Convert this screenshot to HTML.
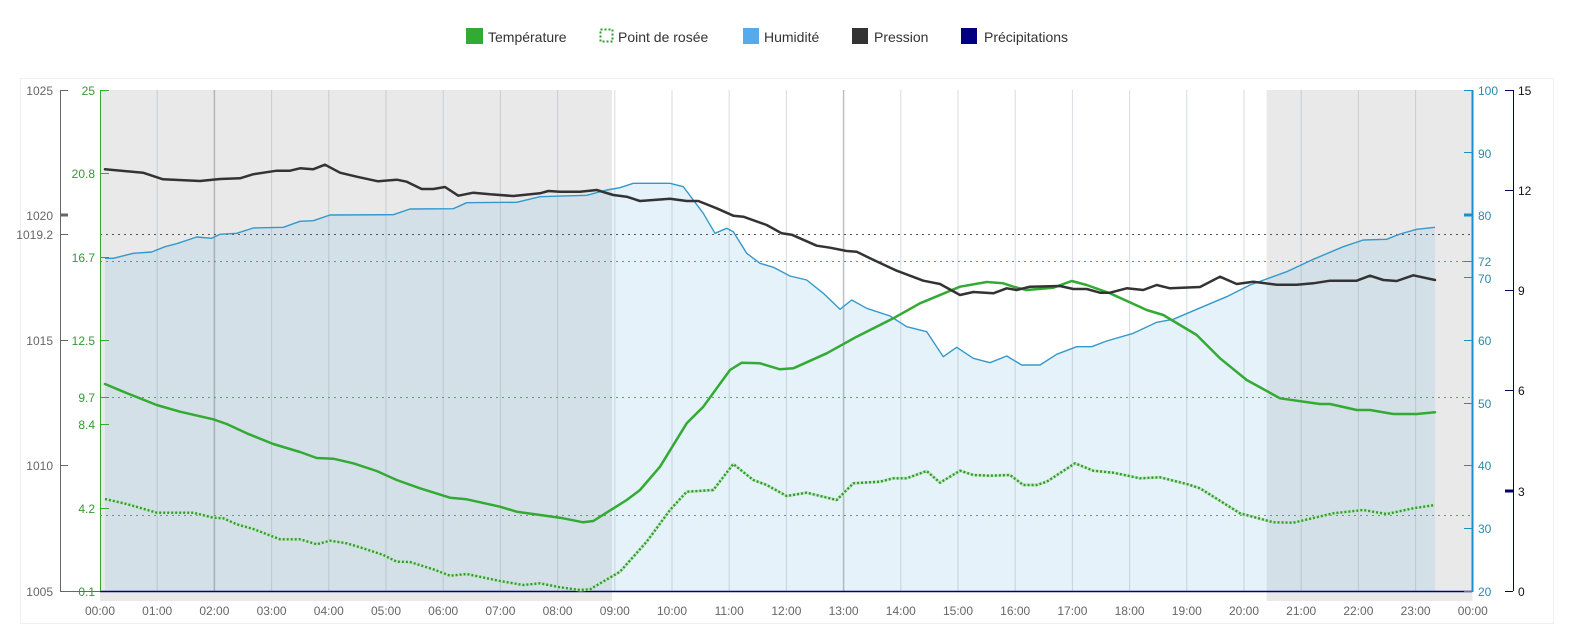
<!DOCTYPE html>
<html><head><meta charset="utf-8"><style>
html,body{margin:0;padding:0;background:#fff;}
svg{display:block;font-family:"Liberation Sans",Arial,sans-serif;}
</style></head><body>
<svg width="1569" height="625" viewBox="0 0 1569 625" xmlns="http://www.w3.org/2000/svg">
<rect x="0" y="0" width="1569" height="625" fill="#fff"/>
<!-- legend -->
<g font-size="14" fill="#333">
<rect x="466" y="28" width="17" height="16" fill="#33aa33"/>
<text x="488" y="42">Température</text>
<rect x="600.5" y="29.5" width="12" height="12" fill="none" stroke="#339933" stroke-width="2" stroke-dasharray="2,2"/>
<text x="618" y="42">Point de rosée</text>
<rect x="743" y="28" width="16" height="16" fill="#55aaee"/>
<text x="764" y="42">Humidité</text>
<rect x="852" y="28" width="16" height="16" fill="#333"/>
<text x="874" y="42">Pression</text>
<rect x="961" y="28" width="16" height="16" fill="#000080"/>
<text x="984" y="42">Précipitations</text>
</g>
<!-- panel border -->
<rect x="20.5" y="78.5" width="1533" height="545" fill="none" stroke="#f0f0f0"/>
<!-- night regions -->
<rect x="100" y="90" width="512" height="511" fill="#e9e9e9"/>
<rect x="1266.7" y="90" width="205.8" height="511" fill="#e9e9e9"/>
<!-- humidity fill -->
<polygon fill="rgba(110,183,222,0.18)" points="105,258.3 113.3,258.3 133.3,253.3 151.7,252 165,246.7 176.7,243.7 196.7,237 211.7,238.3 220,234.3 236.7,233.3 253.3,228 283.3,227.3 300,221.3 313.3,220.7 330,215 393.3,214.7 410,209 453.3,208.7 466.7,202.7 516.7,202.3 540,196.7 586.7,195.3 606.7,190 620,187.7 633.3,183.3 670,183.3 683.3,186.7 693.3,200 703.3,213.3 715,233.3 726.7,228.3 733.3,231.7 746.7,253.3 760,263.3 773.3,267.3 790,276 806.7,280 823.3,293.3 840,309.3 851.7,300 866.7,308.3 890,316 906.7,326.7 926.7,331.7 943.3,356.7 956.7,347.3 973.3,358.3 990,362.7 1006.7,356 1021.7,365 1040,365 1056.7,354.3 1076.7,346.7 1091.7,346.7 1106.7,341 1133.3,333.3 1156.7,322.3 1173.3,319.3 1196.7,309.3 1226.7,296.7 1250,285 1286.7,271.7 1313.3,259.3 1343.3,246.7 1363.3,240 1386.7,239.3 1400,234 1416.7,229.3 1435,227.3 1435,591 105,591"/>
<!-- vertical grid -->
<g stroke="rgba(140,155,170,0.35)" stroke-width="1">
<line x1="157.2" y1="90" x2="157.2" y2="591"/>
<line x1="214.4" y1="90" x2="214.4" y2="591" stroke="rgba(120,130,140,0.5)" stroke-width="1.5"/>
<line x1="271.6" y1="90" x2="271.6" y2="591"/>
<line x1="328.8" y1="90" x2="328.8" y2="591"/>
<line x1="386" y1="90" x2="386" y2="591"/>
<line x1="443.2" y1="90" x2="443.2" y2="591"/>
<line x1="500.4" y1="90" x2="500.4" y2="591"/>
<line x1="557.6" y1="90" x2="557.6" y2="591"/>
<line x1="614.8" y1="90" x2="614.8" y2="591"/>
<line x1="672" y1="90" x2="672" y2="591"/>
<line x1="729.2" y1="90" x2="729.2" y2="591"/>
<line x1="786.4" y1="90" x2="786.4" y2="591"/>
<line x1="843.6" y1="90" x2="843.6" y2="591" stroke="rgba(120,130,140,0.5)" stroke-width="1.5"/>
<line x1="900.8" y1="90" x2="900.8" y2="591"/>
<line x1="958" y1="90" x2="958" y2="591"/>
<line x1="1015.2" y1="90" x2="1015.2" y2="591"/>
<line x1="1072.4" y1="90" x2="1072.4" y2="591"/>
<line x1="1129.6" y1="90" x2="1129.6" y2="591"/>
<line x1="1186.8" y1="90" x2="1186.8" y2="591"/>
<line x1="1244" y1="90" x2="1244" y2="591"/>
<line x1="1301.2" y1="90" x2="1301.2" y2="591"/>
<line x1="1358.4" y1="90" x2="1358.4" y2="591"/>
<line x1="1415.6" y1="90" x2="1415.6" y2="591"/>
</g>
<!-- horizontal dotted lines -->
<g stroke-width="1" stroke-dasharray="2,4">
<line x1="100" y1="234.5" x2="1472" y2="234.5" stroke="#555"/>
<line x1="100" y1="261.5" x2="1472" y2="261.5" stroke="#4d9bb0"/>
<line x1="100" y1="397.5" x2="1472" y2="397.5" stroke="#6a9a6a"/>
<line x1="100" y1="515.5" x2="1472" y2="515.5" stroke="#6a9a6a"/>
</g>
<!-- precip baseline -->
<line x1="100" y1="591.5" x2="1472" y2="591.5" stroke="#000080" stroke-width="1.5"/>
<!-- humidity line -->
<polyline fill="none" stroke="#3399cc" stroke-width="1.4" stroke-linejoin="round" points="105,258.3 113.3,258.3 133.3,253.3 151.7,252 165,246.7 176.7,243.7 196.7,237 211.7,238.3 220,234.3 236.7,233.3 253.3,228 283.3,227.3 300,221.3 313.3,220.7 330,215 393.3,214.7 410,209 453.3,208.7 466.7,202.7 516.7,202.3 540,196.7 586.7,195.3 606.7,190 620,187.7 633.3,183.3 670,183.3 683.3,186.7 693.3,200 703.3,213.3 715,233.3 726.7,228.3 733.3,231.7 746.7,253.3 760,263.3 773.3,267.3 790,276 806.7,280 823.3,293.3 840,309.3 851.7,300 866.7,308.3 890,316 906.7,326.7 926.7,331.7 943.3,356.7 956.7,347.3 973.3,358.3 990,362.7 1006.7,356 1021.7,365 1040,365 1056.7,354.3 1076.7,346.7 1091.7,346.7 1106.7,341 1133.3,333.3 1156.7,322.3 1173.3,319.3 1196.7,309.3 1226.7,296.7 1250,285 1286.7,271.7 1313.3,259.3 1343.3,246.7 1363.3,240 1386.7,239.3 1400,234 1416.7,229.3 1435,227.3"/>
<!-- dew point -->
<polyline fill="none" stroke="#bfe8bf" stroke-width="3" stroke-linejoin="round" points="105,499 126.7,504 156.7,512.7 193.3,512.7 213.3,517.7 223.3,518.3 236.7,524.3 253.3,529 280,539.3 300,539.3 316.7,544.3 330,540.7 346.7,543.3 363.3,548.3 383.3,555 396.7,561.7 410,562 433.3,569.3 450,575.7 466.7,574 500,581 523.3,585 540,583.3 560,587.3 580,590 590,589.3 620,571.7 646.7,541.7 670,510 686.7,491.7 713.3,490 733.3,464 753.3,480 766.7,485 786.7,496 806.7,492.7 836.7,500 853.3,483.3 880,481.7 893.3,478.3 906.7,478.3 926.7,471 940,482.7 960,470.7 973.3,475 990,475.7 1010,475 1023.3,485 1036.7,485 1046.7,481.7 1075,463.3 1093.3,470.7 1113.3,472.7 1140,478.3 1160,477.3 1186.7,484 1200,488.3 1240,513.3 1273.3,522.3 1293.3,522.7 1333.3,513.3 1363.3,510 1386.7,514 1413.3,508.3 1435,505"/>
<polyline fill="none" stroke="#339933" stroke-width="2.4" stroke-dasharray="2,2" stroke-linejoin="round" points="105,499 126.7,504 156.7,512.7 193.3,512.7 213.3,517.7 223.3,518.3 236.7,524.3 253.3,529 280,539.3 300,539.3 316.7,544.3 330,540.7 346.7,543.3 363.3,548.3 383.3,555 396.7,561.7 410,562 433.3,569.3 450,575.7 466.7,574 500,581 523.3,585 540,583.3 560,587.3 580,590 590,589.3 620,571.7 646.7,541.7 670,510 686.7,491.7 713.3,490 733.3,464 753.3,480 766.7,485 786.7,496 806.7,492.7 836.7,500 853.3,483.3 880,481.7 893.3,478.3 906.7,478.3 926.7,471 940,482.7 960,470.7 973.3,475 990,475.7 1010,475 1023.3,485 1036.7,485 1046.7,481.7 1075,463.3 1093.3,470.7 1113.3,472.7 1140,478.3 1160,477.3 1186.7,484 1200,488.3 1240,513.3 1273.3,522.3 1293.3,522.7 1333.3,513.3 1363.3,510 1386.7,514 1413.3,508.3 1435,505"/>
<!-- temperature -->
<polyline fill="none" stroke="#33aa33" stroke-width="2.5" stroke-linejoin="round" stroke-linecap="round" points="105,384 123.3,391.7 156.7,405 180,411.7 213.3,419.3 226.7,424 246.7,433.3 273.3,444 300,452 316.7,458 333.3,458.7 353.3,463.3 376.7,471 396.7,480 420,488.3 450,497.7 466.7,499.3 500,506.7 516.7,511.7 560,517.7 583.3,522.3 593.3,521 626.7,500 640,490 660,466.7 686.7,423.3 703.3,406.7 730,370 741.7,362.7 760,363.3 780,369.3 793.3,368.3 826.7,353.3 856.7,336.7 893.3,318.3 920,303.3 960,286.7 986.7,282 1003.3,283.3 1013.3,286.7 1026.7,290 1053.3,287.7 1071.7,281 1086.7,285 1110,293.3 1146.7,310 1163.3,315 1196.7,335 1220,358.3 1246.7,380 1280,398.3 1320,404 1330,404 1356.7,410 1370,410 1393.3,414 1416.7,414 1435,412.3"/>
<!-- pressure -->
<polyline fill="none" stroke="#333" stroke-width="2.5" stroke-linejoin="round" stroke-linecap="round" points="105,169.3 143,172.7 163,179.3 200,181 220,179 240,178.3 253,174.3 276.7,170.7 290,170.7 300,168.3 313,169.3 325,164.7 340,172.7 356.7,176.7 378,181.3 396.7,179.7 406.7,181.7 421.7,189 433.3,189 445,187 458.3,195.7 473.3,192.7 490,194.3 513.3,196 540,193.3 548.3,191 560,191.7 580,191.7 596.7,190 613.3,195 626.7,196.7 640,201 670,198.7 686.7,201 698.3,201 716.7,208.3 733.3,215.7 743.3,216.7 766.7,225 781.7,233.3 791.7,234.7 816.7,245.7 830,247.7 846.7,251 856.7,251.7 870,258.3 896.7,270.7 923.3,280.7 940,284 960,295 973.3,292 993.3,293.3 1006.7,288.3 1016.7,290 1030,286.7 1060,286 1073.3,289 1086.7,289 1100,292.7 1110,292.7 1126.7,288.3 1143.3,290 1156.7,285 1170,288.3 1200,287 1220,276.7 1236.7,284 1253.3,281.7 1276.7,284.7 1296.7,284.7 1313.3,283.3 1330,280.7 1356.7,280.7 1370,275.7 1383.3,280 1396.7,281 1413.3,275.3 1435,280"/>
<!-- pressure axis -->
<g stroke="#666" stroke-width="1">
<line x1="60.5" y1="90" x2="60.5" y2="591"/>
<line x1="60" y1="90.5" x2="68" y2="90.5"/>
<line x1="60" y1="215" x2="68" y2="215" stroke-width="3"/>
<line x1="60" y1="234.5" x2="68" y2="234.5"/>
<line x1="60" y1="340.5" x2="68" y2="340.5"/>
<line x1="60" y1="465.5" x2="68" y2="465.5"/>
<line x1="60" y1="591.5" x2="100" y2="591.5"/>
</g>
<g font-size="12" fill="#666" text-anchor="end">
<text x="53" y="95">1025</text>
<text x="53" y="220">1020</text>
<text x="53" y="239">1019.2</text>
<text x="53" y="345">1015</text>
<text x="53" y="470">1010</text>
<text x="53" y="596">1005</text>
</g>
<!-- temperature axis -->
<g stroke="#33aa33" stroke-width="1">
<line x1="100.5" y1="90" x2="100.5" y2="591"/>
<line x1="100" y1="90.5" x2="109" y2="90.5"/>
<line x1="100" y1="173.5" x2="109" y2="173.5"/>
<line x1="100" y1="257.5" x2="109" y2="257.5"/>
<line x1="100" y1="340.5" x2="109" y2="340.5"/>
<line x1="100" y1="397.5" x2="109" y2="397.5"/>
<line x1="100" y1="424.5" x2="109" y2="424.5"/>
<line x1="100" y1="508.5" x2="109" y2="508.5"/>
</g>
<g font-size="12" fill="#339933" text-anchor="end">
<text x="95" y="95">25</text>
<text x="95" y="178">20.8</text>
<text x="95" y="262">16.7</text>
<text x="95" y="345">12.5</text>
<text x="95" y="402">9.7</text>
<text x="95" y="429">8.4</text>
<text x="95" y="513">4.2</text>
<text x="95" y="596">0.1</text>
</g>
<!-- humidity axis -->
<g stroke="#1a8fc8" stroke-width="1">
<line x1="1472.5" y1="90" x2="1472.5" y2="592" stroke-width="2"/>
<line x1="1464" y1="90.5" x2="1472" y2="90.5"/>
<line x1="1464" y1="152.5" x2="1472" y2="152.5"/>
<line x1="1464" y1="215" x2="1472" y2="215" stroke-width="3"/>
<line x1="1464" y1="261.5" x2="1472" y2="261.5"/>
<line x1="1464" y1="277.5" x2="1472" y2="277.5"/>
<line x1="1464" y1="340.5" x2="1472" y2="340.5"/>
<line x1="1464" y1="403.5" x2="1472" y2="403.5"/>
<line x1="1464" y1="465.5" x2="1472" y2="465.5"/>
<line x1="1464" y1="528.5" x2="1472" y2="528.5"/>
<line x1="1464" y1="591.5" x2="1472" y2="591.5"/>
</g>
<g font-size="12" fill="#2a8aaa">
<text x="1478" y="95">100</text>
<text x="1478" y="158">90</text>
<text x="1478" y="220">80</text>
<text x="1478" y="266">72</text>
<text x="1478" y="283">70</text>
<text x="1478" y="345">60</text>
<text x="1478" y="408">50</text>
<text x="1478" y="470">40</text>
<text x="1478" y="533">30</text>
<text x="1478" y="596">20</text>
</g>
<!-- precipitation axis -->
<g stroke="#000066" stroke-width="1">
<line x1="1513.5" y1="90" x2="1513.5" y2="591"/>
<line x1="1505" y1="90.5" x2="1513" y2="90.5"/>
<line x1="1505" y1="190.5" x2="1513" y2="190.5"/>
<line x1="1505" y1="290.5" x2="1513" y2="290.5"/>
<line x1="1505" y1="390.5" x2="1513" y2="390.5"/>
<line x1="1505" y1="491" x2="1513" y2="491" stroke-width="3"/>
<line x1="1505" y1="591.5" x2="1513" y2="591.5"/>
</g>
<g font-size="12" fill="#111">
<text x="1518" y="95">15</text>
<text x="1518" y="195">12</text>
<text x="1518" y="295">9</text>
<text x="1518" y="395">6</text>
<text x="1518" y="496">3</text>
<text x="1518" y="596">0</text>
</g>
<!-- x labels -->
<g font-size="12" fill="#666" text-anchor="middle">
<text x="100" y="615">00:00</text>
<text x="157.2" y="615">01:00</text>
<text x="214.4" y="615">02:00</text>
<text x="271.6" y="615">03:00</text>
<text x="328.8" y="615">04:00</text>
<text x="386" y="615">05:00</text>
<text x="443.2" y="615">06:00</text>
<text x="500.4" y="615">07:00</text>
<text x="557.6" y="615">08:00</text>
<text x="614.8" y="615">09:00</text>
<text x="672" y="615">10:00</text>
<text x="729.2" y="615">11:00</text>
<text x="786.4" y="615">12:00</text>
<text x="843.6" y="615">13:00</text>
<text x="900.8" y="615">14:00</text>
<text x="958" y="615">15:00</text>
<text x="1015.2" y="615">16:00</text>
<text x="1072.4" y="615">17:00</text>
<text x="1129.6" y="615">18:00</text>
<text x="1186.8" y="615">19:00</text>
<text x="1244" y="615">20:00</text>
<text x="1301.2" y="615">21:00</text>
<text x="1358.4" y="615">22:00</text>
<text x="1415.6" y="615">23:00</text>
<text x="1472.8" y="615">00:00</text>
</g>
</svg>
</body></html>
